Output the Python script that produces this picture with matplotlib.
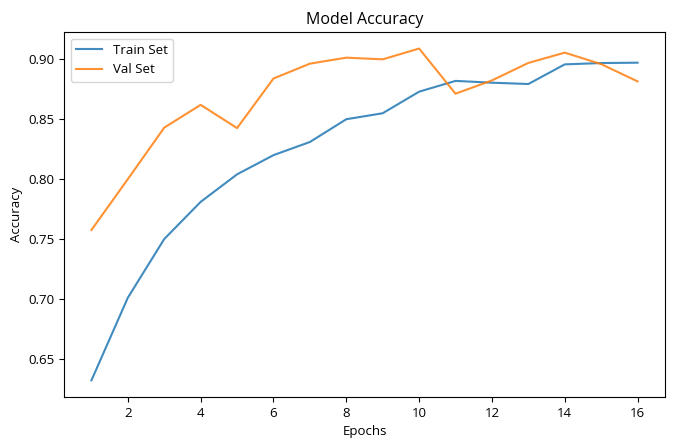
import matplotlib
matplotlib.use("Agg")
import matplotlib.pyplot as plt

plt.rcParams['font.family'] = ['Open Sans', 'DejaVu Sans']

epochs = list(range(1, 17))
train_acc = [0.632, 0.701, 0.750, 0.781, 0.804, 0.820, 0.831, 0.850, 0.855,
             0.873, 0.882, 0.8805, 0.8794, 0.8958, 0.8969, 0.8972]
val_acc = [0.7575, 0.800, 0.843, 0.862, 0.8426, 0.884, 0.8964, 0.9014, 0.900,
           0.909, 0.8713, 0.8824, 0.897, 0.9056, 0.896, 0.8816]
series_labels = ["Train Set", "Val Set"]

fig = plt.figure(figsize=(6.75, 4.44), dpi=100)
ax = fig.add_axes([0.095, 0.106, 0.89, 0.822])
ax.plot(epochs, train_acc, color="#1f77b4", label=series_labels[0], alpha=0.85)
ax.plot(epochs, val_acc, color="#ff7f0e", label=series_labels[1], alpha=0.85)
ax.set_title("Model Accuracy", fontsize=11.5)
ax.set_xlabel("Epochs", fontsize=9.5)
ax.set_ylabel("Accuracy", fontsize=9.5)
ax.tick_params(labelsize=9.5)
ax.set_xticks([2, 4, 6, 8, 10, 12, 14, 16])
ax.legend(loc="upper left", fontsize=9.5)
fig.savefig("out.png", dpi=100)
